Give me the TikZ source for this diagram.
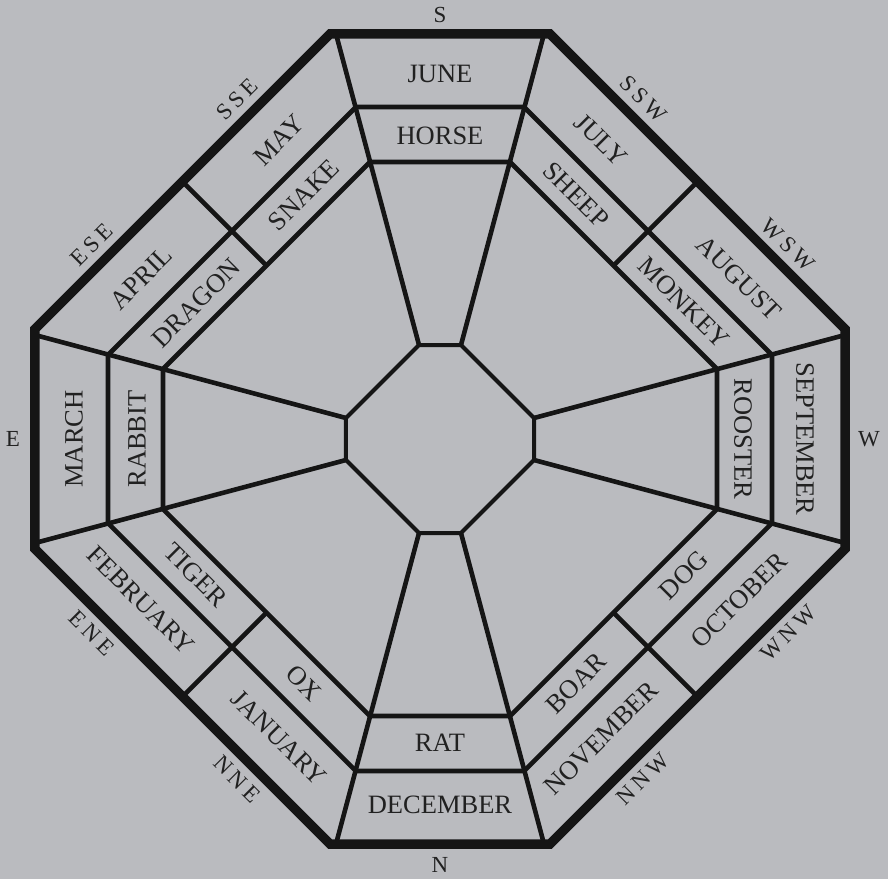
\documentclass[tikz,border=0pt]{standalone}
\usepackage{fontspec}
\usetikzlibrary{calc}
\setmainfont{Liberation Serif}
\newfontfamily\compassfont{Liberation Serif}[LetterSpace=18]
\definecolor{paper}{RGB}{186,187,191}
\definecolor{ink}{HTML}{151515}

\begin{document}
\begin{tikzpicture}[x=1pt,y=1pt,
 every node/.style={text=ink!95,inner sep=0pt},
 month/.style={font=\fontsize{26.5}{28}\selectfont},
 beast/.style={font=\fontsize{26.5}{28}\selectfont},
 wind/.style={font=\fontsize{23}{25}\compassfont},
 rim/.style={draw=ink,line width=9.5pt,line join=miter},
 wall/.style={draw=ink,line width=4.6pt},
 hub/.style={draw=ink,line width=4pt}]
\fill[paper] (-440,-440) rectangle (448,439);
\useasboundingbox (-440,-440) rectangle (448,439);
% rings, counted clockwise from the top left corner
\coordinate (o1) at (-110,405); \coordinate (o2) at (110,405); \coordinate (o3) at (405,110); \coordinate (o4) at (405,-110);
\coordinate (o5) at (110,-405); \coordinate (o6) at (-110,-405); \coordinate (o7) at (-405,-110); \coordinate (o8) at (-405,110);
\coordinate (m1) at (-84,332); \coordinate (m2) at (84,332); \coordinate (m3) at (332,84); \coordinate (m4) at (332,-84);
\coordinate (m5) at (84,-332); \coordinate (m6) at (-84,-332); \coordinate (m7) at (-332,-84); \coordinate (m8) at (-332,84);
\coordinate (i1) at (-70,277); \coordinate (i2) at (70,277); \coordinate (i3) at (277,70); \coordinate (i4) at (277,-70);
\coordinate (i5) at (70,-277); \coordinate (i6) at (-70,-277); \coordinate (i7) at (-277,-70); \coordinate (i8) at (-277,70);
\coordinate (c1) at (-21,94); \coordinate (c2) at (21,94); \coordinate (c3) at (94,21); \coordinate (c4) at (94,-21);
\coordinate (c5) at (21,-94); \coordinate (c6) at (-21,-94); \coordinate (c7) at (-94,-21); \coordinate (c8) at (-94,21);
\coordinate (r1) at (-104,405); \coordinate (r2) at (104,405); \coordinate (r3) at (405,104); \coordinate (r4) at (405,-104);
\coordinate (r5) at (104,-405); \coordinate (r6) at (-104,-405); \coordinate (r7) at (-405,-104); \coordinate (r8) at (-405,104);
% spokes and band lines
\draw[wall] (c1)--(r1) (c2)--(r2) (c3)--(r3) (c4)--(r4) (c5)--(r5) (c6)--(r6) (c7)--(r7) (c8)--(r8);
\draw[wall] (m1)--(m2)--(m3)--(m4)--(m5)--(m6)--(m7)--(m8)--cycle;
\draw[wall] (i1)--(i2)--(i3)--(i4)--(i5)--(i6)--(i7)--(i8)--cycle;
\draw[wall] ($(i8)!.5!(i1)$)--($(o8)!.5!(o1)$) ($(i2)!.5!(i3)$)--($(o2)!.5!(o3)$)
 ($(i4)!.5!(i5)$)--($(o4)!.5!(o5)$) ($(i6)!.5!(i7)$)--($(o6)!.5!(o7)$);
\draw[hub] (c1)--(c2)--(c3)--(c4)--(c5)--(c6)--(c7)--(c8)--cycle;
\draw[rim] (o1)--(o2)--(o3)--(o4)--(o5)--(o6)--(o7)--(o8)--cycle;
% months
\node[month] (jun) at (0,365) {JUNE};
\node[month,rotate=-45] (jul) at (161,299) {JULY};
\node[month,rotate=-45] (aug) at (299,161) {AUGUST};
\node[month,rotate=-90] (sep) at (365,0) {SEPTEMBER};
\node[month,rotate=45] (oct) at (299,-161) {OCTOBER};
\node[month,rotate=45] (nov) at (161,-299) {NOVEMBER};
\node[month] (dec) at (0,-366) {DECEMBER};
\node[month,rotate=-45] (jan) at (-161,-299) {JANUARY};
\node[month,rotate=-45] (feb) at (-299,-161) {FEBRUARY};
\node[month,rotate=90] (mar) at (-366,0) {MARCH};
\node[month,rotate=45] (apr) at (-299,161) {APRIL};
\node[month,rotate=45] (may) at (-161,299) {MAY};
% animals
\node[beast] (horse) at (0,303) {HORSE};
\node[beast,rotate=-45] (sheep) at (136,244) {SHEEP};
\node[beast,rotate=-45] (monkey) at (244,136) {MONKEY};
\node[beast,rotate=-90] (rooster) at (303,0) {ROOSTER};
\node[beast,rotate=45] (dog) at (244,-136) {DOG};
\node[beast,rotate=45] (boar) at (136,-244) {BOAR};
\node[beast] (rat) at (0,-304) {RAT};
\node[beast,rotate=-45] (ox) at (-136,-244) {OX};
\node[beast,rotate=-45] (tiger) at (-244,-136) {TIGER};
\node[beast,rotate=90] (rabbit) at (-303,0) {RABBIT};
\node[beast,rotate=45] (dragon) at (-244,136) {DRAGON};
\node[beast,rotate=45] (snake) at (-136,244) {SNAKE};
% compass points
\node[wind] (s) at (0,424) {S};
\node[wind,rotate=-45] (ssw) at (203,340) {SSW};
\node[wind,rotate=-45] (wsw) at (348,194) {WSW};
\node[wind] (w) at (429,0) {W};
\node[wind,rotate=45] (wnw) at (348,-194) {WNW};
\node[wind,rotate=45] (nnw) at (203,-340) {NNW};
\node[wind] (n) at (0,-426) {N};
\node[wind,rotate=-45] (nne) at (-203,-340) {NNE};
\node[wind,rotate=-45] (ene) at (-348,-194) {ENE};
\node[wind] (e) at (-427,0) {E};
\node[wind,rotate=45] (ese) at (-348,194) {ESE};
\node[wind,rotate=45] (sse) at (-203,340) {SSE};
\end{tikzpicture}
\end{document}
